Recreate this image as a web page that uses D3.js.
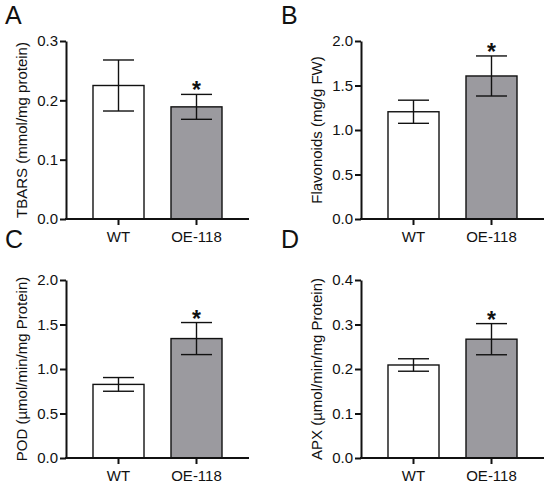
<!DOCTYPE html>
<html lang="en">
	<head>
		<meta charset="utf-8">
		<title>Four panel bar chart WT vs OE-118</title>
		<script type="text/javascript" src="https://cdn.jsdelivr.net/npm/d3@7"></script>
		<style type="text/css">
			body { margin: 0; background: #fff; }
			text { font-family: "Liberation Sans", Arial, Helvetica, sans-serif; fill: #111; }
			.ylabel { font-size: 15px; text-anchor: middle; }
			.letter { font-size: 25px; }
			.star { font-size: 23px; font-weight: bold; text-anchor: middle; }
		</style>
	</head>
	<body>
		<script type="text/javascript">

			var w = 550;
			var h = 488;

			//data
			var categories = ["WT", "OE-118"];
			var letters = ["A", "B", "C", "D"];
			var yLabels = ["TBARS (mmol/mg protein)", "Flavonoids (mg/g FW)",
				"POD (\u00b5mol/min/mg Protein)", "APX (\u00b5mol/min/mg Protein)"];
			var tbarsMean = [0.225, 0.189];
			var tbarsErr = [0.043, 0.021];
			var flavMean = [1.205, 1.607];
			var flavErr = [0.13, 0.225];
			var podMean = [0.827, 1.342];
			var podErr = [0.077, 0.18];
			var apxMean = [0.209, 0.267];
			var apxErr = [0.014, 0.035];
			var tbarsTicks = [0, 0.1, 0.2, 0.3];
			var flavTicks = [0, 0.5, 1.0, 1.5, 2.0];
			var podTicks = [0, 0.5, 1.0, 1.5, 2.0];
			var apxTicks = [0, 0.1, 0.2, 0.3, 0.4];
			var significant = [false, true];

			var panels = [
				{means: tbarsMean, errs: tbarsErr, ticks: tbarsTicks},
				{means: flavMean, errs: flavErr, ticks: flavTicks},
				{means: podMean, errs: podErr, ticks: podTicks},
				{means: apxMean, errs: apxErr, ticks: apxTicks}
			];

			//layout
			var offsets = [[0, 0], [295, 0], [0, 239], [295, 239]];
			var letterPos = [[5, 24], [281, 24], [5, 248], [281, 248]];
			var plotLeft = 66, plotTop = 41, plotW = 183, plotH = 178;
			var fills = ["#ffffff", "#9b9a9f"];

			var svg = d3.select("body")
				.append("svg")
				.attr("width", w)
				.attr("height", h);

			var x = d3.scaleBand()
				.domain(categories)
				.range([13.5, 169.5])
				.paddingInner(0.346)
				.paddingOuter(0.173);

			panels.forEach(function(p, k) {
				var g = svg.append("g")
					.attr("transform", "translate(" + (offsets[k][0] + plotLeft) + "," + (offsets[k][1] + plotTop) + ")");

				var y = d3.scaleLinear()
					.domain([0, p.ticks[p.ticks.length - 1]])
					.range([plotH, 0]);

				//bars
				g.selectAll("rect")
					.data(p.means)
					.enter()
					.append("rect")
					.attr("x", function(d, i) { return x(categories[i]) })
					.attr("width", x.bandwidth())
					.attr("y", function(d) { return y(d) })
					.attr("height", function(d) { return plotH - y(d) })
					.attr("fill", function(d, i) { return fills[i] })
					.attr("stroke", "#111")
					.attr("stroke-width", 1.4);

				//error bars
				var cap = 15.5;
				p.means.forEach(function(m, i) {
					var cx = x(categories[i]) + x.bandwidth() / 2;
					var top = y(m + p.errs[i]), bot = y(m - p.errs[i]);
					g.append("line").attr("x1", cx).attr("x2", cx).attr("y1", top).attr("y2", bot);
					g.append("line").attr("x1", cx - cap).attr("x2", cx + cap).attr("y1", top).attr("y2", top);
					g.append("line").attr("x1", cx - cap).attr("x2", cx + cap).attr("y1", bot).attr("y2", bot);
					if (significant[i]) {
						g.append("text")
							.attr("class", "star")
							.attr("x", cx)
							.attr("y", top + 4)
							.text("*");
					}
				});
				g.selectAll("line")
					.attr("stroke", "#111")
					.attr("stroke-width", 1.4);

				//y axis
				var yAxis = g.append("g")
					.call(d3.axisLeft(y)
						.tickValues(p.ticks)
						.tickFormat(d3.format(".1f"))
						.tickSize(6)
						.tickSizeOuter(0)
						.tickPadding(2));

				//x axis
				var xAxis = g.append("g")
					.attr("transform", "translate(0," + plotH + ")")
					.call(d3.axisBottom(x)
						.tickSize(6)
						.tickSizeOuter(0)
						.tickPadding(6));
				xAxis.select(".domain").remove();
				xAxis.append("line")
					.attr("x1", -1)
					.attr("x2", plotW)
					.attr("stroke", "#111");

				[yAxis, xAxis].forEach(function(a) {
					a.selectAll("path, line").attr("stroke", "#111").attr("stroke-width", 2);
					a.selectAll("text").attr("fill", "#111").attr("font-size", 15)
						.attr("font-family", "'Liberation Sans', Arial, sans-serif");
				});

				//y label
				g.append("text")
					.attr("class", "ylabel")
					.attr("transform", "translate(-39," + (plotH / 2) + ") rotate(-90)")
					.text(yLabels[k]);

				//panel letter
				svg.append("text")
					.attr("class", "letter")
					.attr("x", letterPos[k][0])
					.attr("y", letterPos[k][1])
					.text(letters[k]);
			});

		</script>
	</body>
</html>
